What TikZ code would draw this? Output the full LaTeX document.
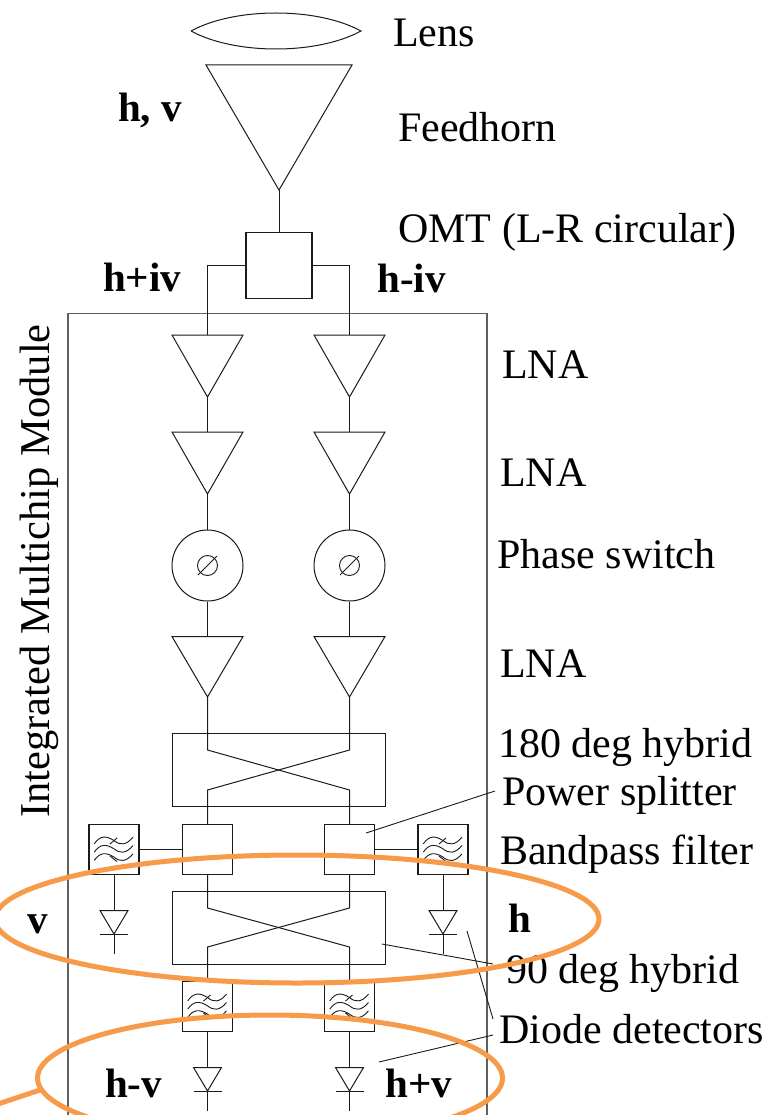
\documentclass[tikz,border=0pt]{standalone}
\usepackage{fontspec}
\setmainfont{Liberation Serif}
\definecolor{loop}{HTML}{F79A4A}
\definecolor{ink}{HTML}{1A1A1A}
\tikzset{
  wire/.style={draw=ink,line width=1pt},
  boxn/.style={draw=ink,line width=1.1pt,inner sep=0pt,minimum width=#1},
  squarebox/.style={boxn=50pt,minimum height=50pt},
  hybridbox/.style={boxn=213pt,minimum height=73pt},
  omtbox/.style={boxn=66pt,minimum height=66pt},
  label/.style={anchor=base west,inner sep=0pt,font=\fontsize{42}{42}\selectfont},
  blabel/.style={anchor=base west,inner sep=0pt,font=\fontsize{41}{41}\selectfont\bfseries},
  leader/.style={draw=ink,line width=0.9pt},
  loopline/.style={draw=loop,line width=5pt},
}
% triangle: name, x, top y, half width, height
\newcommand{\ampl}[5]{%
  \coordinate (#1-in) at (#2,#3);
  \coordinate (#1-out) at (#2,#3+#5);
  \draw[wire,line join=miter] (#2-#4,#3) -- (#2+#4,#3) -- (#1-out) -- cycle;}
% diode: name, x, top y
\newcommand{\diode}[3]{%
  \ampl{#1}{#2}{#3}{14}{23.5}
  \coordinate (#1-end) at (#2,#3+43);
  \draw[wire] (#2-14,#3+23.5) -- (#2+14,#3+23.5);
  \draw[wire] (#1-out) -- (#1-end);}
% filter: name, x, y
\newcommand{\bandpass}[3]{%
  \node[squarebox] (#1) at (#2,#3) {};
  \begin{scope}[shift={(#2,#3)}]
    \foreach \d in {0,8.3,16.6}{
      \draw[wire,line width=0.9pt] (-19.7,-5.7+\d) .. controls (-14,-14+\d) and (-8,-14+\d) .. (0,-9+\d)
        .. controls (6,-4+\d) and (12,-4+\d) .. (19,-12.3+\d);}
    \draw[wire,line width=0.9pt] (-4,-5.5) -- (3,-11.5);
    \draw[wire,line width=0.9pt] (-4,6.5) -- (3,12);
  \end{scope}}
% phase switch: name, x, y
\newcommand{\phasesw}[3]{%
  \node[draw=ink,line width=1pt,circle,minimum size=71pt,inner sep=0pt] (#1) at (#2,#3) {};
  \draw[wire,line width=0.9pt] (#2,#3) circle (10pt);
  \draw[wire,line width=0.9pt] (#2-9.5,#3+9.5) -- (#2+9.5,#3-9.5);}
\begin{document}
\begin{tikzpicture}[x=1pt,y=-1pt]
\useasboundingbox (0,0) rectangle (770,1115);
\clip (0,0) rectangle (770,1115);
% lens
\coordinate (lensL) at (191,31);
\coordinate (lensR) at (361,31);
\draw[wire] (lensL) .. controls (235,7) and (317,7) .. (lensR) .. controls (317,55) and (235,55) .. (lensL);
% feedhorn and OMT
\ampl{horn}{279}{65}{73}{125}
\node[omtbox] (omt) at (279,265.5) {};
\draw[wire] (horn-out) -- (omt.north);
% module
\draw[draw=ink!70!white,line width=1.2pt] (68,1130) -- (68,313.5) -- (487,313.5) -- (487,1130);
% left and right chains
\foreach \n/\x in {l/207.5,r/349.5}{
  \ampl{a\n}{\x}{335}{35.5}{62}
  \ampl{b\n}{\x}{432}{35.5}{62}
  \phasesw{ps\n}{\x}{565.5}
  \ampl{c\n}{\x}{636.5}{35.5}{60.5}
  \node[squarebox] (sp\n) at (\x,849.5) {};
  \bandpass{f\n}{\x}{1006.5}
  \diode{d\n}{\x}{1067.5}
  \draw[wire] (a\n-out) -- (b\n-in);
  \draw[wire] (b\n-out) -- (ps\n.north);
  \draw[wire] (ps\n.south) -- (c\n-in);
  \draw[wire] (f\n.south) -- (d\n-in);
}
\draw[wire] (omt.west) -| (al-in);
\draw[wire] (omt.east) -| (ar-in);
% hybrids
\node[hybridbox] (h180) at (279,770) {};
\node[hybridbox] (h90) at (279,928) {};
\coordinate (xa) at (207.5,750); \coordinate (xb) at (349.5,790);
\coordinate (xc) at (349.5,750); \coordinate (xd) at (207.5,790);
\coordinate (ya) at (207.5,908); \coordinate (yb) at (349.5,947);
\coordinate (yc) at (349.5,908); \coordinate (yd) at (207.5,947);
\draw[wire] (cl-out) -- (xa) -- (xb) -- (xb |- spr.north);
\draw[wire] (cr-out) -- (xc) -- (xd) -- (xd |- spl.north);
\draw[wire] (xd |- spl.south) -- (ya) -- (yb) -- (yb |- fr.north);
\draw[wire] (xb |- spr.south) -- (yc) -- (yd) -- (yd |- fl.north);
% side filters and diodes
\bandpass{fsl}{114}{849.5}
\bandpass{fsr}{443}{849.5}
\diode{dsl}{114}{910.5}
\diode{dsr}{443}{910.5}
\draw[wire] (fsl.east) -- (spl.west);
\draw[wire] (spr.east) -- (fsr.west);
\draw[wire] (fsl.south) -- (dsl-in);
\draw[wire] (fsr.south) -- (dsr-in);
% labels
\node[label] (tlens) at (393,47) {Lens};
\node[label] (thorn) at (398,142) {Feedhorn};
\node[label] (tomt) at (398,243) {OMT (L-R circular)};
\node[label] (tl1) at (502,378) {LNA};
\node[label] (tl2) at (500,486) {LNA};
\node[label] (tps) at (497,568) {Phase switch};
\node[label] (tl3) at (500,677) {LNA};
\node[label] (t180) at (498,757) {180 deg hybrid};
\node[label] (tsp) at (502,805) {Power splitter};
\node[label] (tbp) at (500,864) {Bandpass filter};
\node[label] (t90) at (506,983) {90 deg hybrid};
\node[label] (tdd) at (499,1043) {Diode detectors};
\node[blabel] (bhv) at (118,122) {h, v};
\node[blabel] (bhpiv) at (103,291) {h+iv};
\node[blabel] (bhmiv) at (377,292) {h-iv};
\node[blabel] (bv) at (27,933) {v};
\node[blabel] (bh) at (508,932) {h};
\node[blabel] (bhmv) at (105,1097) {h-v};
\node[blabel] (bhpv) at (385,1097) {h+v};
\node[anchor=base,rotate=90,inner sep=0pt,font=\fontsize{42.5}{42.5}\selectfont] (tmod) at (49,571) {Integrated Multichip Module};
% leaders
\coordinate (p1) at (366,833); \coordinate (p2) at (495,791);
\coordinate (p3) at (382,944); \coordinate (p4) at (493,964);
\coordinate (p5) at (467,931); \coordinate (p6) at (493,1019);
\coordinate (p7) at (379,1062); \coordinate (p8) at (493,1035);
\draw[leader] (p1) -- (p2);
\draw[leader] (p3) -- (p4);
\draw[leader] (p5) -- (p6);
\draw[leader] (p7) -- (p8);
% orange loops
\draw[loopline] (297,919) ellipse [x radius=302,y radius=64];
\node[draw=none,inner sep=0pt,minimum size=0pt] (lo) at (270,1078) {};
\draw[loopline] (lo) ellipse [x radius=232.5,y radius=63];
\coordinate (lt) at (40,1090); \coordinate (lf) at (-5,1105);
\draw[loopline] (lf) -- (lt);
\end{tikzpicture}
\end{document}
